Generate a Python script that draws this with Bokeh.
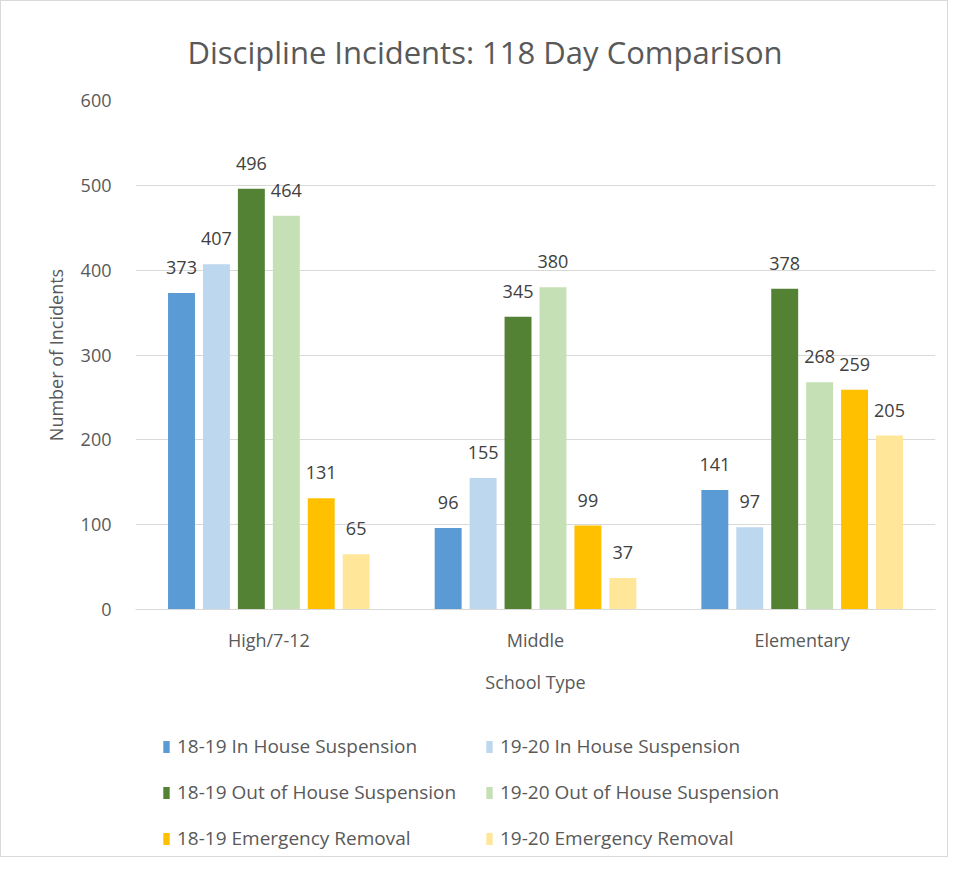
from bokeh.plotting import figure
from bokeh.layouts import column
from bokeh.models import ColumnDataSource, FactorRange, Range1d, LabelSet, Legend, LegendItem, SingleIntervalTicker
from bokeh.core.properties import value
from bokeh.transform import dodge
from bokeh.embed import file_html
from bokeh.resources import INLINE

categories = ["High/7-12", "Middle", "Elementary"]
series_names = ["18-19 In House Suspension", "19-20 In House Suspension",
                "18-19 Out of House Suspension", "19-20 Out of House Suspension",
                "18-19 Emergency Removal", "19-20 Emergency Removal"]
ihs_1819 = [373, 96, 141]
ihs_1920 = [407, 155, 97]
ohs_1819 = [496, 345, 378]
ohs_1920 = [464, 380, 268]
er_1819 = [131, 99, 259]
er_1920 = [65, 37, 205]
series_values = [ihs_1819, ihs_1920, ohs_1819, ohs_1920, er_1819, er_1920]
colors = ["#5B9BD5", "#BDD7EE", "#548235", "#C5E0B4", "#FFC000", "#FFE699"]

FONT = "Open Sans"
TXT = "#595959"

p = figure(width=946, height=710, x_range=FactorRange(*categories), y_range=Range1d(0, 600),
           output_backend="svg", toolbar_location=None,
           min_border_left=134, min_border_right=12, min_border_top=99, min_border_bottom=102,
           title="Discipline Incidents: 118 Day Comparison")
p.title.text_font = FONT
p.title.text_font_size = "31px"
p.title.text_font_style = "normal"
p.title.text_color = TXT
p.title.align = "left"
p.title.vertical_align = "top"
p.title.offset = 52
p.title.standoff = 52
p.outline_line_color = None
p.background_fill_color = "white"
p.border_fill_color = "white"

src = ColumnDataSource(dict(cat=categories, **{f"s{i}": v for i, v in enumerate(series_values)}))
slot = 0.131
for i, (name, col) in enumerate(zip(series_names, colors)):
    off = (i - 2.5) * slot
    p.vbar(x=dodge("cat", off, range=p.x_range), top=f"s{i}", width=0.101, source=src,
           fill_color=col, line_color=None)
    lbl = LabelSet(x=dodge("cat", off, range=p.x_range), y=f"s{i}", text=f"s{i}", source=src,
                   text_align="center", text_baseline="bottom", y_offset=19,
                   text_font=value(FONT), text_font_size=value("18px"), text_color=value("#404040"))
    p.add_layout(lbl)

p.xgrid.grid_line_color = None
p.ygrid.grid_line_color = "#D9D9D9"
p.ygrid.grid_line_width = 1
p.yaxis.ticker = SingleIntervalTicker(interval=100)
p.yaxis.axis_line_color = None
p.yaxis.major_tick_line_color = None
p.yaxis.minor_tick_line_color = None
p.yaxis.major_label_standoff = 18
p.yaxis.axis_label = "Number of Incidents"
p.yaxis.axis_label_standoff = 10
p.xaxis.axis_line_color = "#D9D9D9"
p.xaxis.major_tick_line_color = None
p.xaxis.minor_tick_line_color = None
p.xaxis.major_label_standoff = 12
p.xaxis.axis_label = "School Type"
p.xaxis.axis_label_standoff = 15
for ax in (p.xaxis, p.yaxis):
    ax.major_label_text_font = FONT
    ax.major_label_text_font_size = "18px"
    ax.major_label_text_color = TXT
    ax.axis_label_text_font = FONT
    ax.axis_label_text_font_size = "18px"
    ax.axis_label_text_font_style = "normal"
    ax.axis_label_text_color = TXT

# legend panel below the chart
lg = figure(width=946, height=145, x_range=Range1d(0, 1), y_range=Range1d(0, 1),
            output_backend="svg", toolbar_location=None,
            min_border_left=134, min_border_right=12, min_border_top=0, min_border_bottom=0)
lg.axis.visible = False
lg.grid.grid_line_color = None
lg.outline_line_color = None
lg.background_fill_color = "white"
lg.border_fill_color = "white"
items = []
for name, col in zip(series_names, colors):
    d = lg.vbar(x=[-5], top=[-5], width=0.1, fill_color=col, line_color=None)
    items.append(LegendItem(label=name, renderers=[d]))
legend = Legend(items=items, ncols=2, location=(27, 5), orientation="horizontal",
                label_text_font=FONT, label_text_font_size="19px", label_text_color=TXT,
                glyph_width=8, glyph_height=15, label_standoff=7, label_height=20,
                label_width=288, spacing=20, border_line_color=None,
                background_fill_alpha=0, margin=0, padding=0)
lg.add_layout(legend)

layout = column(p, lg, spacing=0, styles={"border": "1px solid #d9d9d9"})
open("out.html", "w").write(file_html(layout, INLINE))
